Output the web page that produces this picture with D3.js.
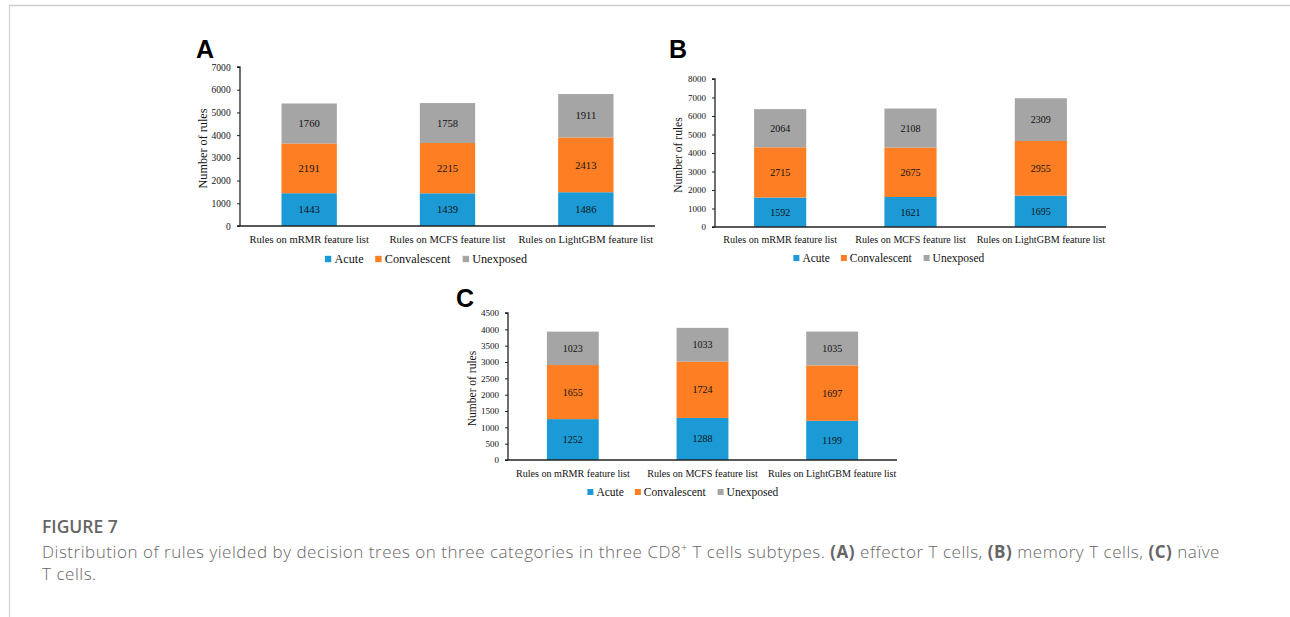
<!DOCTYPE html>
<html>
<head>
<meta charset="utf-8">
<script src="https://cdn.jsdelivr.net/npm/d3@7"></script>
<style>
  html, body { margin: 0; padding: 0; background: #fff; }
  svg { display: block; }
</style>
</head>
<body>
<svg id="fig" width="1290" height="617"></svg>
<script>
// ---- Data ----------------------------------------------------------------
const categories = [
  "Rules on mRMR feature list",
  "Rules on MCFS feature list",
  "Rules on LightGBM feature list"
];
const seriesNames = ["Acute", "Convalescent", "Unexposed"];
const seriesColors = ["#1b9ad6", "#fd7e23", "#a5a5a5"];

// (A) effector T cells
const effectorAcute        = [1443, 1439, 1486];
const effectorConvalescent = [2191, 2215, 2413];
const effectorUnexposed    = [1760, 1758, 1911];
const effectorTicks        = [0, 1000, 2000, 3000, 4000, 5000, 6000, 7000];

// (B) memory T cells
const memoryAcute        = [1592, 1621, 1695];
const memoryConvalescent = [2715, 2675, 2955];
const memoryUnexposed    = [2064, 2108, 2309];
const memoryTicks        = [0, 1000, 2000, 3000, 4000, 5000, 6000, 7000, 8000];

// (C) naive T cells
const naiveAcute        = [1252, 1288, 1199];
const naiveConvalescent = [1655, 1724, 1697];
const naiveUnexposed    = [1023, 1033, 1035];
const naiveTicks        = [0, 500, 1000, 1500, 2000, 2500, 3000, 3500, 4000, 4500];

const yAxisTitle = "Number of rules";

// ---- Layout of the three panels -----------------------------------------
const panels = [
  { letter: "A", series: [effectorAcute, effectorConvalescent, effectorUnexposed], ticks: effectorTicks,
    x0: 240, x1: 655, yTop: 67, yBottom: 226, k: 1.06,
    letterX: 196, letterY: 58, titleX: 203, legendCx: 426, legendY: 259, catY: 239 },
  { letter: "B", series: [memoryAcute, memoryConvalescent, memoryUnexposed], ticks: memoryTicks,
    x0: 715, x1: 1106, yTop: 79, yBottom: 227, k: 1.0,
    letterX: 669, letterY: 58, titleX: 678, legendCx: 889, legendY: 258, catY: 239 },
  { letter: "C", series: [naiveAcute, naiveConvalescent, naiveUnexposed], ticks: naiveTicks,
    x0: 508, x1: 897, yTop: 313, yBottom: 460, k: 1.0,
    letterX: 456, letterY: 307, titleX: 472, legendCx: 683, legendY: 492, catY: 473 }
];

const svg = d3.select("#fig");
svg.append("rect").attr("width", 1290).attr("height", 617).attr("fill", "#fff");

// page frame
svg.append("line").attr("x1", 9).attr("x2", 1290).attr("y1", 5.5).attr("y2", 5.5)
  .attr("stroke", "#cfcfcf").attr("stroke-width", 1.5);
svg.append("line").attr("x1", 9.5).attr("x2", 9.5).attr("y1", 5).attr("y2", 617)
  .attr("stroke", "#cfcfcf").attr("stroke-width", 1.2);

const serif = "'Liberation Serif', 'Times New Roman', serif";

panels.forEach(p => {
  const g = svg.append("g");
  const k = p.k;

  const x = d3.scaleBand().domain(categories).range([p.x0, p.x1])
    .paddingInner(0.6).paddingOuter(0.3);
  const y = d3.scaleLinear().domain([0, d3.max(p.ticks)]).range([p.yBottom, p.yTop]);

  // stacked rows
  const rows = categories.map((c, i) => {
    const r = { category: c };
    seriesNames.forEach((s, j) => r[s] = p.series[j][i]);
    return r;
  });
  const stacked = d3.stack().keys(seriesNames)(rows);

  stacked.forEach((layer, j) => {
    const lg = g.append("g");
    lg.selectAll("rect").data(layer).join("rect")
      .attr("x", d => x(d.data.category))
      .attr("width", x.bandwidth())
      .attr("y", d => y(d[1]))
      .attr("height", d => y(d[0]) - y(d[1]))
      .attr("fill", seriesColors[j]);
    lg.selectAll("text").data(layer).join("text")
      .attr("x", d => x(d.data.category) + x.bandwidth() / 2)
      .attr("y", d => (y(d[0]) + y(d[1])) / 2)
      .attr("dy", "0.35em")
      .attr("text-anchor", "middle")
      .attr("font-family", serif)
      .attr("font-size", 10 * k)
      .attr("fill", "#111")
      .text(d => d.data[layer.key]);
  });

  // y axis
  const yAxis = g.append("g").attr("transform", `translate(${p.x0},0)`)
    .call(d3.axisLeft(y).tickValues(p.ticks).tickSize(3).tickPadding(6 * k).tickFormat(d3.format("d")));
  yAxis.select(".domain").attr("stroke", "#222").attr("stroke-width", 1.3)
    .attr("d", `M-3,${p.yTop}H0V${p.yBottom}`);
  yAxis.selectAll(".tick line").attr("stroke", "#222").attr("stroke-width", 1);
  yAxis.selectAll(".tick text").attr("font-family", serif).attr("font-size", 9 * k).attr("fill", "#111");

  // x axis baseline
  g.append("line").attr("x1", p.x0 - 3).attr("x2", p.x1)
    .attr("y1", p.yBottom).attr("y2", p.yBottom)
    .attr("stroke", "#222").attr("stroke-width", 1.3);

  // category labels
  g.selectAll("text.cat").data(categories).join("text")
    .attr("class", "cat")
    .attr("x", d => x(d) + x.bandwidth() / 2)
    .attr("y", p.catY).attr("dy", "0.35em")
    .attr("text-anchor", "middle")
    .attr("font-family", serif).attr("font-size", k > 1 ? 10.6 : 10.1)
    .attr("fill", "#111")
    .text(d => d);

  // y-axis title
  g.append("text")
    .attr("transform", `translate(${p.titleX},${(p.yTop + p.yBottom) / 2 + 2}) rotate(-90)`)
    .attr("text-anchor", "middle").attr("dy", "0.35em")
    .attr("font-family", serif).attr("font-size", 11.5 * k)
    .attr("fill", "#111")
    .text(yAxisTitle);

  // panel letter
  g.append("text").attr("x", p.letterX).attr("y", p.letterY)
    .attr("font-family", "'Liberation Sans', Arial, sans-serif")
    .attr("font-weight", 700).attr("font-size", 25)
    .attr("fill", "#000")
    .text(p.letter);

  // legend
  const leg = g.append("g");
  const items = leg.selectAll("g").data(seriesNames).join("g");
  items.append("rect").attr("width", 6 * k).attr("height", 6 * k)
    .attr("y", -3 * k).attr("fill", (d, i) => seriesColors[i]);
  items.append("text").attr("x", 9 * k).attr("dy", "0.35em")
    .attr("font-family", serif).attr("font-size", 11.5 * k).attr("fill", "#111")
    .text(d => d);
  let cursor = 0;
  const offsets = [];
  items.each(function () {
    offsets.push(cursor);
    cursor += this.getBBox().width + 11 * k;
  });
  const total = cursor - 11 * k;
  items.attr("transform", (d, i) => `translate(${p.legendCx - total / 2 + offsets[i]},${p.legendY})`);
});

// ---- Caption -------------------------------------------------------------
const captionFont = "'Open Sans', Lato, sans-serif";
const captionLeft = 42;
const captionRight = 1220;   // right edge of the first caption line

svg.append("text").attr("x", captionLeft).attr("y", 533)
  .attr("font-family", captionFont).attr("font-size", 17.5).attr("font-weight", 600)
  .attr("fill", "#666")
  .text("FIGURE 7");

const line1 = svg.append("text").attr("x", captionLeft).attr("y", 558)
  .attr("font-family", captionFont).attr("font-size", 17).attr("font-weight", 300)
  .attr("fill", "#666");
const parts = [
  ["Distribution of rules yielded by decision trees on three categories in three CD8", 300],
  ["+", 300, "sup"],
  [" T cells subtypes. ", 300],
  ["(A)", 700], [" effector T cells, ", 300],
  ["(B)", 700], [" memory T cells, ", 300],
  ["(C)", 700], [" naïve", 300]
];
parts.forEach(([t, w, sup]) => {
  const ts = line1.append("tspan").attr("font-weight", w).text(t);
  if (sup) ts.attr("font-size", 10).attr("baseline-shift", "super");
});
const line2 = svg.append("text").attr("x", captionLeft).attr("y", 580)
  .attr("font-family", captionFont).attr("font-size", 17).attr("font-weight", 300)
  .attr("fill", "#666")
  .text("T cells.");

// spread the caption so the first line spans the text column
const nChars = parts.reduce((s, p) => s + p[0].length, 0);
const natural = line1.node().getComputedTextLength();
const spacing = (captionRight - captionLeft - natural) / nChars;
line1.attr("letter-spacing", spacing);
line2.attr("letter-spacing", spacing);
</script>
</body>
</html>
